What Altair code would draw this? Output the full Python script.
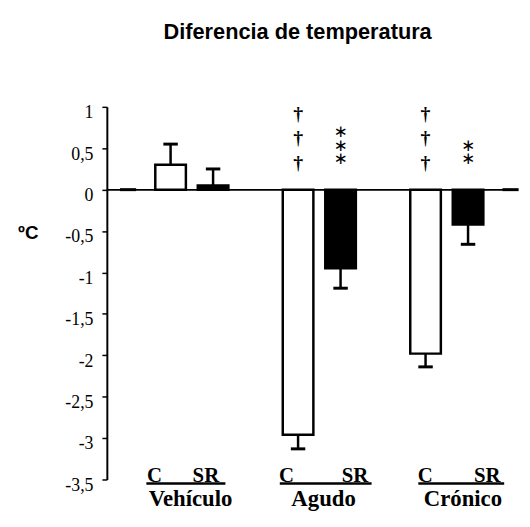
import altair as alt
import pandas as pd

# ---- data ----
groups = ["Vehículo", "Vehículo", "Agudo", "Agudo", "Crónico", "Crónico"]
conditions = ["C", "SR", "C", "SR", "C", "SR"]
slots = [1, 2, 4, 5, 7, 8]
means = [0.30, 0.05, -2.96, -0.95, -1.98, -0.42]
errors = [0.25, 0.20, 0.17, 0.24, 0.16, 0.24]
edge_slots = [0, 9]
edge_values = [0.0, 0.0]
daggers = ["", "", "†\n†\n†", "", "†\n†\n†", ""]
asterisks = ["", "", "", "∗\n∗\n∗", "", "\n∗\n∗"]
y_ticks = [1, 0.5, 0, -0.5, -1, -1.5, -2, -2.5, -3, -3.5]

cond_label_slots = [0.62, 1.83, 3.73, 5.34, 6.99, 8.45]
group_names = ["Vehículo", "Agudo", "Crónico"]
group_label_slots = [1.47, 4.6, 7.88]
underline_start = [0.43, 3.57, 6.83]
underline_end = [2.29, 5.73, 8.85]

# ---- tables ----
bars = pd.DataFrame({
    "group": groups, "cond": conditions, "slot": slots,
    "mean": means, "err": errors,
    "dagger": daggers, "ast": asterisks,
})
bars["lo"] = bars["slot"] - 0.36
bars["hi"] = bars["slot"] + 0.36
bars["zero"] = 0.0
bars["errend"] = [m + (e if m >= 0 else -e) for m, e in zip(means, errors)]
bars["cap_lo"] = bars["slot"] - 0.17
bars["cap_hi"] = bars["slot"] + 0.17

edges = pd.DataFrame({"slot": edge_slots, "v": edge_values})
edges["lo"] = edges["slot"] - 0.19
edges["hi"] = edges["slot"] + 0.19

cond_labels = pd.DataFrame({"pos": cond_label_slots, "txt": conditions})
group_labels = pd.DataFrame({"pos": group_label_slots, "txt": group_names,
                             "u0": underline_start, "u1": underline_end})

xscale = alt.Scale(domain=[-0.5, 9.13], nice=False, zero=False)
yscale = alt.Scale(domain=[-3.5, 1], nice=False, zero=False)
yaxis = alt.Axis(
    values=y_ticks,
    labelExpr="replace(toString(datum.value), '.', ',')",
    labelFont="Liberation Serif", labelFontSize=18,
    title="ºC",
)

base = alt.Chart(bars)

bar_layer = base.mark_rect(stroke="black", strokeWidth=2.5).encode(
    x=alt.X("lo:Q", scale=xscale, axis=None),
    x2="hi:Q",
    y=alt.Y("mean:Q", scale=yscale, axis=yaxis),
    y2="zero:Q",
    fill=alt.Fill("cond:N", scale=alt.Scale(domain=["C", "SR"], range=["white", "black"]), legend=None),
)

zero_line = alt.Chart(edges).mark_rule(color="black", strokeWidth=1.5).encode(
    y=alt.Y("v:Q", scale=yscale, axis=yaxis),
    x=alt.value(0),
    x2=alt.value(414),
)

stem = base.mark_rule(color="black", strokeWidth=2.5).encode(
    x=alt.X("slot:Q", scale=xscale, axis=None),
    y=alt.Y("mean:Q", scale=yscale, axis=yaxis),
    y2="errend:Q",
)

cap = base.mark_rule(color="black", strokeWidth=3).encode(
    x=alt.X("cap_lo:Q", scale=xscale, axis=None),
    x2="cap_hi:Q",
    y=alt.Y("errend:Q", scale=yscale, axis=yaxis),
)

edge_dash = alt.Chart(edges).mark_rule(color="black", strokeWidth=3).encode(
    x=alt.X("lo:Q", scale=xscale, axis=None),
    x2="hi:Q",
    y=alt.Y("v:Q", scale=yscale, axis=yaxis),
)

dag = base.transform_filter("datum.dagger != ''").mark_text(
    lineBreak="\n", lineHeight=25, font="Liberation Serif", fontSize=20,
    fontWeight="bold", color="black", baseline="middle", align="center",
).encode(
    x=alt.X("slot:Q", scale=xscale, axis=None),
    y=alt.value(7),
    text="dagger:N",
)

ast = base.transform_filter("datum.ast != ''").mark_text(
    lineBreak="\n", lineHeight=13.5, font="DejaVu Sans", fontSize=17,
    color="black", baseline="middle", align="center",
).encode(
    x=alt.X("slot:Q", scale=xscale, axis=None),
    y=alt.value(26),
    text="ast:N",
)

cond_text = alt.Chart(cond_labels).mark_text(
    font="Liberation Serif", fontSize=21, fontWeight="bold", color="black",
    baseline="middle", align="center",
).encode(
    x=alt.X("pos:Q", scale=xscale, axis=None),
    y=alt.value(374),
    text="txt:N",
)

underline = alt.Chart(group_labels).mark_rule(color="black", strokeWidth=2.5).encode(
    x=alt.X("u0:Q", scale=xscale, axis=None),
    x2="u1:Q",
    y=alt.value(381),
)

group_text = alt.Chart(group_labels).mark_text(
    font="Liberation Serif", fontSize=23, fontWeight="bold", color="black",
    baseline="middle", align="center",
).encode(
    x=alt.X("pos:Q", scale=xscale, axis=None),
    y=alt.value(397),
    text="txt:N",
)

chart = alt.layer(
    bar_layer, zero_line, stem, cap, edge_dash, dag, ast, cond_text, underline, group_text
).properties(
    width=414,
    height=377,
    padding={"left": 100, "top": 97, "right": 6, "bottom": 40},
    autosize=alt.AutoSizeParams(type="none"),
    title=alt.Title(
        "Diferencia de temperatura", font="Liberation Sans", fontSize=22,
        fontWeight="bold", color="black", anchor="middle", dx=-14, offset=61,
    ),
).configure_view(stroke=None).configure_axisY(
    labelFont="Liberation Serif", labelFontSize=18, labelColor="black",
    labelOffset=6, labelPadding=9,
    tickSize=5, tickColor="black", tickWidth=1.5,
    domainColor="black", domainWidth=2,
    grid=False,
    titleAngle=0, titleFont="Liberation Sans", titleFontSize=19,
    titleFontWeight="bold", titleColor="black",
    titleX=-80, titleY=127, titleAlign="center", titleBaseline="middle",
)

chart.save("out.html", embed_options={"renderer": "svg", "actions": False})
